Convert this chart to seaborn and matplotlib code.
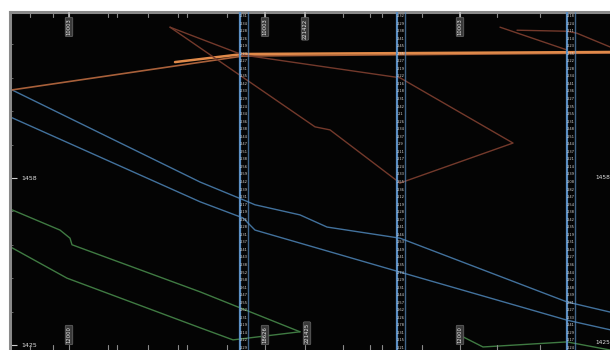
import numpy as np
import pandas as pd
import matplotlib
matplotlib.use("Agg")
import matplotlib.pyplot as plt
import seaborn as sns

sns.set_theme(style="dark")
plt.rcParams["font.family"] = ["DejaVu Sans"]

# ---- train paths (distance along line, time value) ----
blue_a_x = [2, 190, 233, 245, 290, 317, 390, 557, 600]
blue_a_y = [1475.4, 1457.2, 1453.7, 1452.7, 1450.7, 1448.3, 1446.1, 1433.5, 1431.5]
blue_b_x = [2, 190, 233, 245, 280, 390, 557, 600]
blue_b_y = [1469.9, 1453.3, 1450.1, 1447.7, 1445.7, 1439.4, 1429.9, 1428.0]

green_a_x = [2, 50, 60, 62, 190, 290]
green_a_y = [1451.7, 1447.7, 1446.1, 1444.8, 1435.5, 1427.6]
green_b_x = [2, 57, 190, 223, 290]
green_b_y = [1444.2, 1438.2, 1428.4, 1426.0, 1427.6]
green_c_x = [453, 473, 557, 600]
green_c_y = [1426.6, 1424.6, 1425.6, 1424.0]

orange_a_x = [2, 233, 600]
orange_a_y = [1475.4, 1482.1, 1482.7]
orange_b_x = [165, 233, 600]
orange_b_y = [1480.9, 1482.5, 1482.9]

brown_a_x = [160, 233, 390, 503, 390]
brown_a_y = [1487.8, 1482.3, 1477.8, 1464.9, 1457.0]
brown_b_x = [160, 305, 320, 390]
brown_b_y = [1487.8, 1468.1, 1467.5, 1457.0]
brown_c_x = [490, 557]
brown_c_y = [1487.8, 1483.3]
brown_d_x = [507, 557, 567, 600]
brown_d_y = [1487.2, 1487.0, 1486.6, 1483.9]

# ---- stations and labels ----
station_x = [233, 390, 560]
top_tick_x = [20, 43, 59, 98, 107, 138, 168, 177, 217, 255, 295, 333, 360, 372, 412, 450, 487, 530, 557]
top_label_x = [59, 255, 295, 450]
top_labels = ["10003", "10003", "221422", "10003"]
bottom_label_x = [59, 255, 297, 450]
bottom_labels = ["12000", "18626", "221425", "12000"]
y_tick_vals = [1458, 1425]
y_tick_text = ["1458", "1425"]

station_times_1 = ["2.31", "2.34", "2.28", "2.26", "2.19", "2.23", "2.27", "2.31", "2.35", "2.42",
                   "2.33", "2.29", "2.24", "2.34", "2.36", "2.38", "2.44", "2.47", "2.51", "2.38",
                   "2.56", "2.59", "2.42", "2.39", "2.31", "2.17", "2.19", "2.26", "2.28", "2.31",
                   "2.37", "2.41", "2.43", "2.38", "2.52", "2.58", "2.61", "2.47", "2.55", "2.62",
                   "2.31", "2.19", "2.14", "2.22", "2.29"]
station_times_2 = ["2.32", "2.29", "2.38", "2.41", "2.45", "2.35", "2.27", "2.19", "2.22", "2.16",
                   "2.18", "2.31", "2.42", "2.1", "2.26", "2.34", "2.37", "2.9", "2.11", "2.17",
                   "2.24", "2.33", "2.55", "2.36", "2.12", "2.19", "2.28", "2.37", "2.41", "2.46",
                   "2.53", "2.49", "2.41", "2.35", "2.74", "2.29", "2.31", "2.44", "2.57", "2.62",
                   "2.26", "2.78", "2.31", "2.15", "2.21"]
station_times_3 = ["2.18", "2.24", "2.11", "2.14", "2.23", "2.35", "2.22", "2.28", "2.34", "2.41",
                   "2.36", "2.27", "2.35", "2.55", "2.31", "2.48", "2.51", "2.44", "2.37", "2.21",
                   "2.14", "2.39", "2.08", "2.82", "2.47", "2.54", "2.38", "2.42", "2.35", "2.19",
                   "2.31", "2.43", "2.27", "2.36", "2.44", "2.52", "2.48", "2.39", "2.81", "2.27",
                   "2.33", "2.41", "2.29", "2.17", "2.24"]

series = [
    ("blue_a", blue_a_x, blue_a_y), ("blue_b", blue_b_x, blue_b_y),
    ("green_a", green_a_x, green_a_y), ("green_b", green_b_x, green_b_y),
    ("green_c", green_c_x, green_c_y),
    ("orange_a", orange_a_x, orange_a_y), ("orange_b", orange_b_x, orange_b_y),
    ("brown_a", brown_a_x, brown_a_y), ("brown_b", brown_b_x, brown_b_y),
    ("brown_c", brown_c_x, brown_c_y), ("brown_d", brown_d_x, brown_d_y),
]
rows = []
for name, xs, ys in series:
    for i, (xv, yv) in enumerate(zip(xs, ys)):
        rows.append({"train": name, "x": xv, "y": yv, "order": i})
df = pd.DataFrame(rows)

palette = {
    "blue_a": "#42719c", "blue_b": "#42719c",
    "green_a": "#3f7a42", "green_b": "#3f7a42", "green_c": "#3f7a42",
    "orange_a": "#a8603a", "orange_b": "#e08a4a",
    "brown_a": "#73392b", "brown_b": "#73392b", "brown_c": "#73392b", "brown_d": "#73392b",
}
widths = {"orange_b": 1.8, "orange_a": 1.2}

fig = plt.figure(figsize=(6.1, 3.5), dpi=100, facecolor="white")
ax = fig.add_axes([10 / 610, 0, 600 / 610, 338 / 350])
ax.set_facecolor("#040404")

ymin, ymax = 1424.0, 1490.8
ax.set_xlim(0, 600)
ax.set_ylim(ymin, ymax)

for name, _, _ in series:
    sns.lineplot(data=df[df.train == name], x="x", y="y", sort=False, estimator=None,
                 color=palette[name], linewidth=widths.get(name, 1.0), ax=ax, legend=False)

# station columns with stacked times
row_y = np.linspace(ymax - 0.8, ymin + 0.4, 45)
for sx, times in zip(station_x, [station_times_1, station_times_2, station_times_3]):
    ax.axvline(sx - 3.5, color="#5b8fc4", lw=1.6, zorder=4)
    ax.axvline(sx + 4.5, color="#5b8fc4", lw=1.0, alpha=0.7, zorder=4)
    for ty, t in zip(row_y, times):
        ax.text(sx + 0.5, ty, t, fontsize=2.6, color="#d8d8d8", ha="center", va="center", zorder=5)

# top and bottom frame ticks
for tx in top_tick_x:
    ax.plot([tx, tx], [ymax, ymax - 0.9], color="#8a8a8a", lw=0.8, zorder=3)
    ax.plot([tx, tx], [ymin, ymin + 0.9], color="#8a8a8a", lw=0.8, zorder=3)
for tx, lab in zip(top_label_x, top_labels):
    ax.plot([tx, tx], [ymax, ymax - 1.2], color="#bbbbbb", lw=1.2, zorder=3)
    ax.text(tx, ymax - 1.3, lab, rotation=90, fontsize=3.8, color="#e8e8e8", ha="center", va="top",
            bbox=dict(boxstyle="round,pad=0.25", fc="#3a3a3a", ec="#777777", lw=0.4), zorder=6)
for tx, lab in zip(bottom_label_x, bottom_labels):
    ax.text(tx, ymin + 1.3, lab, rotation=90, fontsize=3.8, color="#e8e8e8", ha="center", va="bottom",
            bbox=dict(boxstyle="round,pad=0.25", fc="#3a3a3a", ec="#777777", lw=0.4), zorder=6)

# y axis: labels sit inside the frame on the left, repeated near the right edge
ax.set_yticks(y_tick_vals)
ax.set_yticklabels(y_tick_text)
ax.set_yticks(np.arange(1425, 1491, 6.6), minor=True)
ax.tick_params(axis="y", which="major", direction="in", length=5, width=0.8, color="#cccccc",
               labelsize=4.5, labelcolor="#e0e0e0", pad=-8, left=True)
ax.tick_params(axis="y", which="minor", direction="in", length=2.5, width=0.6, color="#777777", left=True)
for lab in ax.get_yticklabels():
    lab.set_horizontalalignment("left")
for yv, txt in zip(y_tick_vals, y_tick_text):
    ax.text(585, yv + (0.5 if yv == 1425 else 0), txt, fontsize=4.2, color="#e0e0e0",
            ha="left", va="center")

ax.set_xticks([])
ax.set_xlabel("")
ax.set_ylabel("")
ax.grid(False)
for side in ["top", "left"]:
    ax.spines[side].set_visible(True)
    ax.spines[side].set_color("#8a8a8a")
    ax.spines[side].set_linewidth(2.2)
for side in ["right", "bottom"]:
    ax.spines[side].set_visible(False)

fig.savefig("out.png", dpi=100, facecolor="white")
